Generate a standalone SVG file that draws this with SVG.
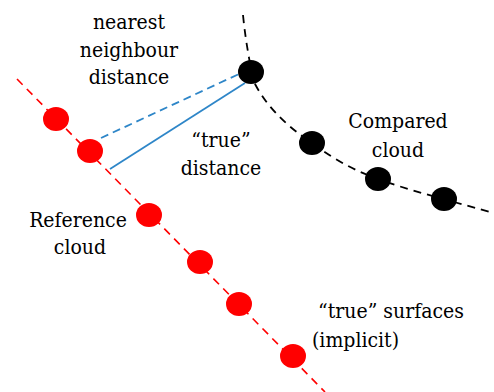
<svg xmlns="http://www.w3.org/2000/svg" width="494" height="392" viewBox="0 0 494 392">
<style>
text{font-family:'DejaVu Serif Condensed','DejaVu Serif',serif;font-stretch:condensed;font-size:21px;fill:#000}
.red{fill:#ff0000}
.blk{fill:#000}
</style>
<rect width="494" height="392" fill="#fff"/>
<g id="connectors" fill="none">
<path d="M17,79 L325,392" stroke="#ff0000" stroke-width="1.6" stroke-dasharray="8,6"/>
<path d="M243,15 C246,45 250,62 253,80 C265,105 285,125 312,143 C335,160 355,171 378,179 C405,189 440,198 490,212" stroke="#000" stroke-width="1.8" stroke-dasharray="8,6"/>
<path d="M101,138 L239,74" stroke="#2e86c8" stroke-width="1.8" stroke-dasharray="8,5"/>
<path d="M110,169 L245,83" stroke="#2e86c8" stroke-width="1.8"/>
</g>
<g id="ref1"><ellipse class="red" cx="56" cy="119" rx="13" ry="12"/></g>
<g id="ref2"><ellipse class="red" cx="90" cy="151" rx="13" ry="12"/></g>
<g id="ref3"><ellipse class="red" cx="149" cy="215" rx="13" ry="12"/></g>
<g id="ref4"><ellipse class="red" cx="200" cy="262" rx="13" ry="12"/></g>
<g id="ref5"><ellipse class="red" cx="239" cy="304" rx="13" ry="12"/></g>
<g id="ref6"><ellipse class="red" cx="293" cy="356" rx="13" ry="12"/></g>
<g id="cmp1"><ellipse class="blk" cx="251" cy="72" rx="13" ry="12"/></g>
<g id="cmp2"><ellipse class="blk" cx="312" cy="143" rx="13" ry="12"/></g>
<g id="cmp3"><ellipse class="blk" cx="378" cy="179" rx="13" ry="12"/></g>
<g id="cmp4"><ellipse class="blk" cx="444" cy="199" rx="13" ry="12"/></g>
<g id="label-nn">
<text x="129" y="29" text-anchor="middle">nearest</text>
<text x="129" y="57" text-anchor="middle">neighbour</text>
<text x="129" y="84" text-anchor="middle">distance</text>
</g>
<g id="label-true">
<text x="221" y="147" text-anchor="middle">“true”</text>
<text x="221" y="175" text-anchor="middle">distance</text>
</g>
<g id="label-compared">
<text x="398" y="128" text-anchor="middle">Compared</text>
<text x="398" y="157" text-anchor="middle">cloud</text>
</g>
<g id="label-reference">
<text x="78" y="227" text-anchor="middle">Reference</text>
<text x="80" y="254" text-anchor="middle">cloud</text>
</g>
<g id="label-surfaces">
<text x="318" y="318">“true” surfaces</text>
<text x="312" y="347">(implicit)</text>
</g>
</svg>
